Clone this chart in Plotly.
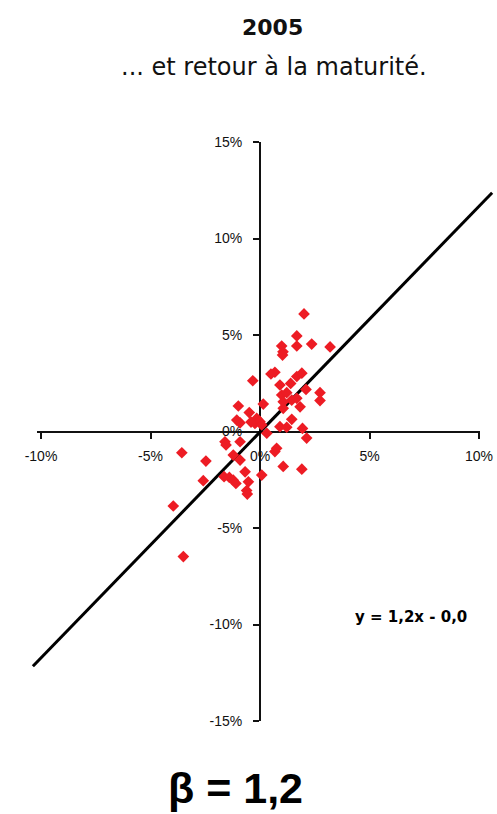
import plotly.graph_objects as go

# ---- data (percent) ----
x_ret = [2.01, 1.68, 0.99, 1.68, 2.36, 3.20, 1.05, 1.03, 0.68, 0.50, 1.68, 1.91, -0.33, 0.91,
         1.40, 2.10, 0.99, 1.22, 2.74, 2.74, 1.45, 1.68, 1.83, 0.15, 1.06, -0.15, -0.23, 0.00,
         0.91, 1.22, 1.45, 1.94, 2.13, -0.99, -0.49, -1.06, -0.91, -0.41, 0.08, 1.06, 0.31,
         -1.60, -1.55, -0.91, 0.68, 0.76, -3.57, -2.47, -1.22, -0.91, 1.06, 1.91, -2.59, -1.64,
         -1.40, -1.22, -1.10, -0.68, -0.53, 0.08, -0.61, -0.58, -3.96, -3.50]
y_ret = [6.09, 4.95, 4.43, 4.43, 4.53, 4.38, 4.13, 3.96, 3.07, 2.98, 2.85, 3.02, 2.63, 2.41,
         2.49, 2.18, 1.89, 2.01, 2.01, 1.60, 1.63, 1.72, 1.28, 1.42, 1.20, 0.68, 0.42, 0.51,
         0.25, 0.22, 0.63, 0.16, -0.34, 1.32, 0.98, 0.59, 0.45, 0.49, 0.34, 1.54, -0.09,
         -0.53, -0.70, -0.53, -1.04, -0.87, -1.10, -1.53, -1.22, -1.48, -1.81, -1.95, -2.55, -2.34,
         -2.38, -2.52, -2.69, -2.09, -2.61, -2.26, -3.06, -3.24, -3.86, -6.48]

trend_slope = 1.17
trend_intercept = -0.03
trend_x = [-10.37, 10.6]
trend_y = [trend_slope * v + trend_intercept for v in trend_x]

x_ticks = [-10, -5, 0, 5, 10]
y_ticks = [-15, -10, -5, 0, 5, 10, 15]

W, H = 497, 814
def px(p):
    return p / W
def py(p):
    return 1 - p / H

fig = go.Figure()

# dummy trace to materialize the displayed axes (xy)
fig.add_trace(go.Scatter(x=[0], y=[0], mode="markers", marker=dict(opacity=0),
                         hoverinfo="skip", showlegend=False, xaxis="x", yaxis="y"))

fig.add_trace(go.Scatter(x=trend_x, y=trend_y, mode="lines",
                         line=dict(color="#000000", width=3),
                         showlegend=False, xaxis="x2", yaxis="y2"))
fig.add_trace(go.Scatter(x=x_ret, y=y_ret, mode="markers",
                         marker=dict(symbol="diamond", size=9, color="#ED1C24",
                                     line=dict(width=0)),
                         showlegend=False, xaxis="x2", yaxis="y2", cliponaxis=False))

# scales: 21.9 px per % horizontally, 19.3 px per % vertically, origin at (260, 431.5)
sx, sy, ox, oy = 21.9, 19.3, 260.0, 431.5
xr = [-10.2, 10.05]
yr = [-15, 15]

tickfont = dict(family="Liberation Sans, Arial, sans-serif", size=14, color="#111111")

fig.update_layout(
    width=W, height=H, autosize=False,
    margin=dict(l=0, r=0, t=0, b=0),
    paper_bgcolor="white", plot_bgcolor="rgba(0,0,0,0)",
    showlegend=False,
    xaxis=dict(domain=[px(ox + xr[0] * sx), px(ox + xr[1] * sx)], range=xr,
               anchor="free", position=py(oy),
               showline=True, linecolor="#111111", linewidth=2,
               ticks="outside", ticklen=6, tickwidth=2, tickcolor="#111111",
               tickvals=x_ticks, ticktext=[f"{v}%" for v in x_ticks],
               tickfont=tickfont, ticklabelstandoff=6,
               showgrid=False, zeroline=False, automargin=False, fixedrange=True),
    yaxis=dict(domain=[py(oy - yr[0] * sy), py(oy - yr[1] * sy)], range=yr,
               anchor="free", position=px(ox),
               showline=True, linecolor="#111111", linewidth=2,
               ticks="outside", ticklen=6, tickwidth=2, tickcolor="#111111",
               tickvals=y_ticks, ticktext=[f"{v}%" for v in y_ticks],
               tickfont=tickfont, ticklabelstandoff=8,
               showgrid=False, zeroline=False, automargin=False, fixedrange=True),
    xaxis2=dict(domain=[0, 1], range=[-ox / sx, (W - ox) / sx], anchor="y2",
                visible=False, showgrid=False, zeroline=False, fixedrange=True),
    yaxis2=dict(domain=[0, 1], range=[(oy - H) / sy, oy / sy], anchor="x2",
                visible=False, showgrid=False, zeroline=False, fixedrange=True),
)

fig.add_annotation(text="<b>2005</b>", x=px(272), y=py(27), xref="paper", yref="paper",
                   showarrow=False, xanchor="center", yanchor="middle",
                   font=dict(family="DejaVu Sans, sans-serif", size=22, color="#111111"))
fig.add_annotation(text="... et retour à la maturité.", x=px(274), y=py(67), xref="paper", yref="paper",
                   showarrow=False, xanchor="center", yanchor="middle",
                   font=dict(family="DejaVu Sans, sans-serif", size=24, color="#111111"))
fig.add_annotation(text="<b>y = 1,2x - 0,0</b>", x=px(411), y=py(617), xref="paper", yref="paper",
                   showarrow=False, xanchor="center", yanchor="middle",
                   font=dict(family="DejaVu Sans, sans-serif", size=15, color="#000000"))
fig.add_annotation(text="<b>β = 1,2</b>", x=px(235), y=py(788), xref="paper", yref="paper",
                   showarrow=False, xanchor="center", yanchor="middle",
                   font=dict(family="Liberation Sans, Arial, sans-serif", size=43, color="#000000"))

fig.write_html("out.html", config={"displayModeBar": False},
               post_script="document.body.style.margin='0px';document.body.style.overflow='hidden';")
